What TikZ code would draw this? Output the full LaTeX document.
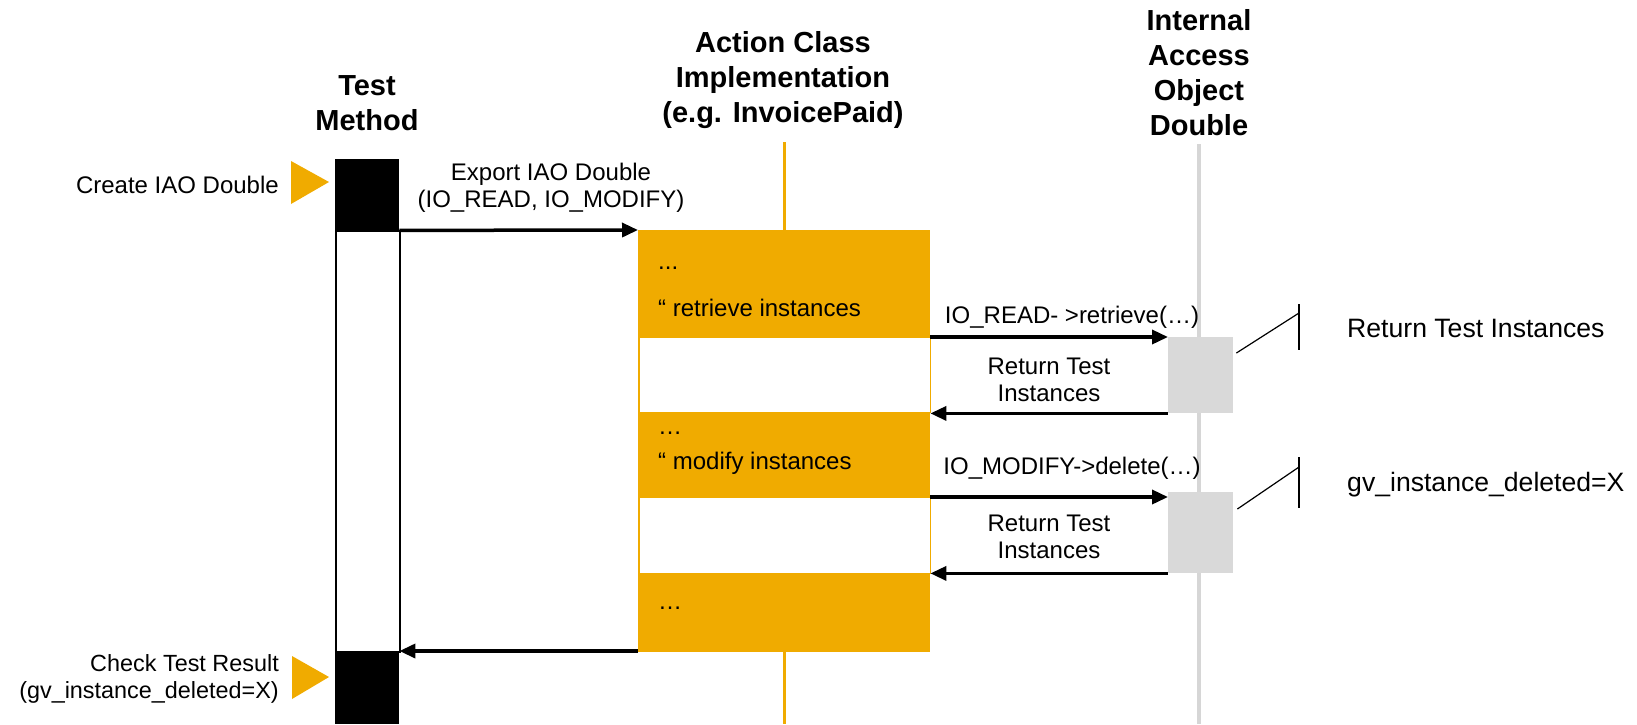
\documentclass[tikz,border=0pt]{standalone}
\usepackage{fontspec}
\setmainfont{Liberation Sans}
\usepackage{xcolor}
\usepackage{tikz}
\usetikzlibrary{arrows.meta,positioning,calc}
\definecolor{ac}{HTML}{F0AB00}
\definecolor{gy}{HTML}{D9D9D9}
\definecolor{gl}{HTML}{D6D6D6}
\newcommand{\Hd}{\fontsize{29}{35}\selectfont\bfseries}
\newcommand{\Lb}{\fontsize{24}{27}\selectfont}
\newcommand{\Nt}{\fontsize{26.6}{30}\selectfont}

\begin{document}
\begin{tikzpicture}[x=1pt,y=-1pt,
  title/.style={align=center, inner sep=0pt, font=\Hd},
  lbl/.style={align=center, inner sep=0pt, font=\Lb},
  note/.style={anchor=west, inner sep=0pt, font=\Nt},
  blk/.style={fill=black, inner sep=0pt, anchor=north west, minimum width=64pt},
  actbox/.style={fill=ac, inner sep=0pt, anchor=north west, minimum width=292pt},
  slot/.style={fill=white, draw=ac, line width=1pt, inner sep=0pt, anchor=north west,
    minimum width=291pt, minimum height=75pt},
  dbl/.style={fill=gy, inner sep=0pt, anchor=north west, minimum width=65pt, minimum height=76pt},
  msg/.style={line width=3.5pt, -{Triangle[length=16pt,width=14pt]}},
  callout/.style={line width=1.2pt},
  pointer/.style={fill=ac}]
  \useasboundingbox (0,0) rectangle (1637,724);

  \node[title] (tmt) at (367,103) {Test\\Method};
  \node[title] (act) at (783,80) {Action Class\\Implementation\\(e.g. InvoicePaid)};
  \node[title] (iao) at (1199,73) {Internal\\Access\\Object\\Double};

  \coordinate (acl) at (784,142);
  \coordinate (iol) at (1199,144);
  \draw[ac, line width=3pt] (acl) -- (acl |- 0,724);
  \draw[gl, line width=3.5pt] (iol) -- (iol |- 0,724);

  \node[draw=black, line width=1.5pt, fill=white, inner sep=0pt, anchor=north west,
    minimum width=64pt, minimum height=421pt] (tml) at (335,230) {};
  \node[blk, minimum height=71pt] (tm1) at (335,159) {};
  \node[blk, minimum height=73pt] (tm2) at (335,651) {};

  \node[actbox, minimum height=422pt] (acb) at (638,230) {};
  \node[slot] (w1) at (638.5,337) {};
  \node[slot, minimum height=76pt] (w2) at (638.5,497) {};

  \node[dbl] (g1) at (1168,337) {};
  \node[dbl, minimum height=81pt] (g2) at (1168,492) {};

  \fill[pointer] (291,161) -- (329,182) -- (291,204) -- cycle;
  \fill[pointer] (292,656) -- (329,677) -- (292,699) -- cycle;
  \node[lbl, anchor=east] (cre) at (279,185) {Create IAO Double};
  \node[lbl, anchor=east, align=right, font=\fontsize{23.4}{27}\selectfont] (chk) at (279,679)
    {Check Test Result\\(gv\_instance\_deleted=X)};

  \node[lbl, anchor=west] (d1) at (658,268) {...};
  \node[lbl, anchor=west] (s1) at (658,308) {“ retrieve instances};
  \node[lbl, anchor=west] (d2) at (658,433) {…};
  \node[lbl, anchor=west] (s2) at (658,463) {“ modify instances};
  \node[lbl, anchor=west] (d3) at (658,608) {…};

  \draw[msg] (tm1.south east) -- (acb.north west);
  \node[lbl] (exl) at (551,188) {Export IAO Double\\(IO\_READ, IO\_MODIFY)};

  \draw[msg] (acb.east |- g1.north) -- (g1.north west);
  \node[lbl] (rdl) at (1072,317) {IO\_READ- >retrieve(…)};
  \draw[msg] (g1.south west) -- (acb.east |- g1.south);
  \node[lbl] (rt1) at (1049,380) {Return Test\\Instances};

  \draw[msg] (acb.east |- w2.north) -- (g2.west |- w2.north);
  \node[lbl] (mdl) at (1072,468) {IO\_MODIFY->delete(…)};
  \draw[msg] (g2.south west) -- (acb.east |- g2.south);
  \node[lbl] (rt2) at (1049,537) {Return Test\\Instances};

  \draw[msg] (acb.west |- tm2.north east) -- (tm2.north east);

  \coordinate (k1) at (1299,313);
  \coordinate (k2) at (1299,467);
  \draw[callout] ([shift={(3,16)}]g1.north east) -- (k1);
  \draw[callout] (k1 |- 0,304) -- (k1 |- 0,350);
  \draw[callout] ([shift={(4,17)}]g2.north east) -- (k2);
  \draw[callout] (k2 |- 0,457) -- (k2 |- 0,508);
  \node[note] (n1) at (1347,328) {Return Test Instances};
  \node[note] (n2) at (1347,485) {gv\_instance\_deleted=X};
\end{tikzpicture}
\end{document}
